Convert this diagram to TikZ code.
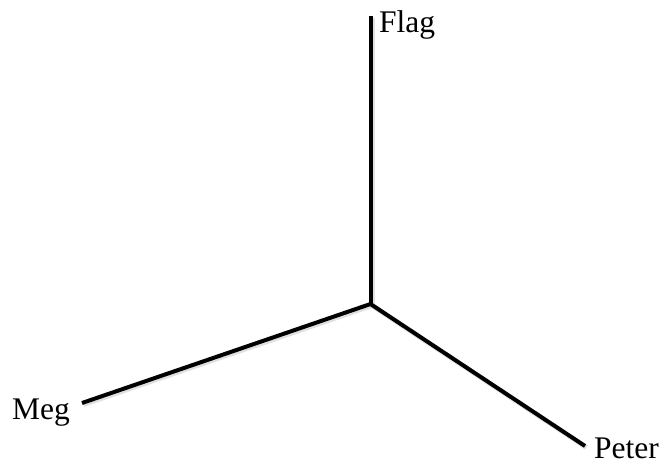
\documentclass[tikz,border=0pt]{standalone}
\usepackage{fontspec}
\setmainfont{Liberation Serif}
\begin{document}
\begin{tikzpicture}[x=1pt,y=-1pt,
  branch/.style={line width=4pt,black},
  shade/.style={line width=5pt,black!12},
  lbl/.style={anchor=base west,inner sep=0pt,font=\fontsize{31.5}{31.5}\selectfont}]
\useasboundingbox (0,0) rectangle (662,464);
\coordinate (c) at (370.5,304);
\coordinate (top) at (370.5,16);
\coordinate (meg) at (82,403);
\coordinate (peter) at (585,446);
\draw[shade] ([shift={(1.5,1.5)}]top) -- ([shift={(1.5,1.5)}]c);
\draw[shade] ([shift={(1.5,1.5)}]meg) -- ([shift={(1.5,1.5)}]c) -- ([shift={(1.5,1.5)}]peter);
\draw[branch] (top) -- (c);
\draw[branch] (meg) -- (c) -- (peter);
\node[lbl] (flag) at (379,32) {Flag};
\node[lbl] (meglbl) at (12,419) {Meg};
\node[lbl] (peterlbl) at (594,458) {Peter};
\end{tikzpicture}
\end{document}
